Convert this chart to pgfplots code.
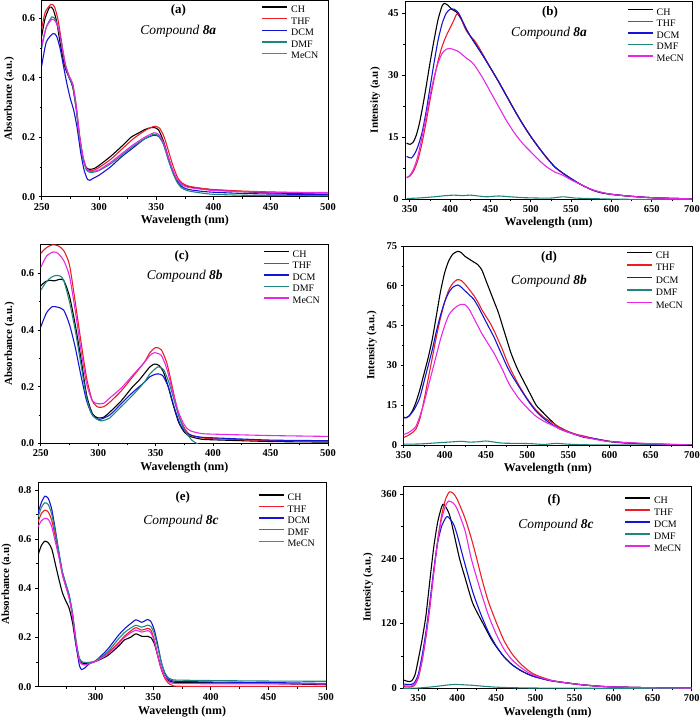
\documentclass[border=0pt]{standalone}
\usepackage{fontspec}
\setmainfont{Liberation Serif}
\usepackage{pgfplots}
\pgfplotsset{compat=1.18}
\definecolor{cCH}{RGB}{0,0,0}
\definecolor{cTHF}{RGB}{235,30,35}
\definecolor{cDCM}{RGB}{20,20,215}
\definecolor{cDMF}{RGB}{30,135,125}
\definecolor{cMeCN}{RGB}{230,40,230}
\pgfplotsset{
  panel/.style={
    scale only axis,
    axis line style={line width=0.8pt},
    tick align=outside, tick pos=left,
    major tick length=3bp, minor tick length=2bp,
    every tick/.style={black, line width=0.7pt},
    tick label style={font=\fontsize{10.5}{12}\selectfont\bfseries},
    /pgf/number format/assume math mode=true,
    xlabel={Wavelength (nm)},
    x label style={font=\fontsize{12}{14}\selectfont\bfseries, anchor=center, at={(axis description cs:0.5,-0.12)}},
    y label style={font=\fontsize{11}{13}\selectfont\bfseries, anchor=center},
    legend style={draw=none, fill=none, font=\fontsize{10}{12}\selectfont, anchor=north west, inner sep=0pt, row sep=2.6bp,
      nodes={inner sep=0pt, text height=7bp, text depth=2bp},
      /tikz/every odd column/.append style={column sep=3bp}},
    legend image code/.code={\draw[#1, line width=1.4pt] (0bp,3bp) -- (25bp,3bp);},
    legend cell align=left,
    every axis plot/.append style={line width=1.1pt, mark=none, smooth, tension=0.4},
    enlargelimits=false,
    minor x tick num=1, minor y tick num=1,
  },
  absy/.style={yticklabel style={/pgf/number format/.cd, fixed, fixed zerofill, precision=1}},
}
\begin{document}
\begin{tikzpicture}
\path[use as bounding box] (0bp,0bp) rectangle (700bp,722bp);

% ---------------- (a)
\begin{axis}[panel, absy, at={(41.7bp,525.3bp)}, anchor=south west, width=286.3bp, height=196.2bp,
  xmin=250, xmax=500, ymin=0, ymax=0.66, xtick={250,300,...,500}, ytick={0,0.2,0.4,0.6},
  ylabel={Absorbance (a.u.)}, y label style={at={(axis description cs:-0.113,0.5)}},
  legend style={at={(axis description cs:0.768,0.975)}}]
\addplot[cCH] coordinates {(250,0.54)(253,0.6)(257,0.638)(260,0.63)(263,0.59)(266,0.52)(270,0.44)(274,0.4)(277,0.37)(280,0.3)(283,0.2)(286,0.13)(289,0.098)(292,0.092)(296,0.095)(300,0.105)(310,0.135)(320,0.17)(328,0.2)(335,0.215)(340,0.226)(345,0.232)(348,0.233)(352,0.225)(356,0.19)(360,0.14)(364,0.09)(368,0.058)(372,0.042)(376,0.035)(380,0.032)(390,0.027)(400,0.023)(425,0.017)(450,0.013)(475,0.01)(500,0.008)};
\addplot[cTHF] coordinates {(250,0.565)(253,0.62)(258,0.647)(261,0.64)(264,0.6)(267,0.53)(270,0.45)(274,0.405)(277,0.38)(280,0.31)(283,0.21)(286,0.135)(289,0.095)(292,0.087)(296,0.09)(300,0.098)(310,0.125)(320,0.16)(330,0.195)(340,0.222)(345,0.232)(349,0.237)(353,0.23)(357,0.2)(361,0.15)(365,0.1)(369,0.062)(373,0.045)(377,0.037)(380,0.034)(390,0.028)(400,0.024)(425,0.019)(450,0.016)(475,0.014)(500,0.013)};
\addplot[cDCM] coordinates {(250,0.44)(254,0.52)(260,0.549)(263,0.54)(266,0.5)(269,0.44)(272,0.38)(275,0.33)(278,0.29)(281,0.23)(284,0.15)(287,0.09)(290,0.058)(292,0.055)(295,0.062)(300,0.072)(310,0.1)(320,0.135)(330,0.165)(340,0.195)(345,0.203)(348,0.207)(352,0.203)(356,0.18)(360,0.135)(364,0.09)(368,0.055)(372,0.035)(376,0.027)(380,0.023)(390,0.018)(400,0.015)(425,0.011)(450,0.009)(500,0.007)};
\addplot[cDMF] coordinates {(250,0.5)(254,0.57)(259,0.605)(262,0.595)(265,0.56)(268,0.5)(271,0.44)(274,0.4)(277,0.375)(280,0.3)(283,0.2)(286,0.13)(289,0.09)(292,0.082)(296,0.083)(300,0.088)(310,0.11)(320,0.14)(330,0.17)(340,0.195)(345,0.205)(348,0.21)(352,0.205)(356,0.18)(360,0.13)(364,0.085)(368,0.05)(372,0.03)(376,0.022)(380,0.018)(390,0.012)(400,0.008)(425,0.005)(450,0.004)(500,0.003)};
\addplot[cMeCN] coordinates {(250,0.51)(254,0.57)(259,0.597)(262,0.59)(265,0.56)(268,0.5)(271,0.44)(274,0.405)(277,0.38)(280,0.31)(283,0.205)(286,0.135)(289,0.095)(292,0.085)(296,0.086)(300,0.09)(310,0.115)(320,0.145)(330,0.175)(340,0.2)(345,0.21)(348,0.215)(352,0.21)(356,0.185)(360,0.14)(364,0.095)(368,0.06)(372,0.042)(376,0.034)(380,0.03)(390,0.025)(400,0.021)(425,0.017)(450,0.015)(475,0.014)(500,0.014)};
\legend{CH,THF,DCM,DMF,MeCN}
\end{axis}

% ---------------- (b)
\begin{axis}[panel, at={(405bp,522.7bp)}, anchor=south west, width=287bp, height=198.3bp,
  xmin=344, xmax=700, ymin=0, ymax=48, xtick={350,400,...,700}, ytick={0,15,30,45},
  ylabel={Intensity (a.u)}, y label style={at={(axis description cs:-0.104,0.5)}},
  legend style={at={(axis description cs:0.774,0.965)}}]
\addplot[cCH] coordinates {(346,13.6)(350,13.3)(354,13.8)(358,15.5)(362,18.5)(366,22.5)(370,27)(375,33)(380,38.5)(385,43.5)(390,46.8)(393,47.4)(397,47)(402,46)(408,45.3)(414,43.5)(420,41.2)(425,39.5)(430,38)(440,35)(450,31.8)(460,28.5)(470,25)(480,21.5)(490,18.2)(500,15.2)(510,12.5)(520,10)(530,7.8)(540,6.3)(550,5)(560,3.8)(570,2.8)(580,2)(590,1.5)(600,1.2)(620,0.8)(640,0.5)(660,0.3)(680,0.2)(700,0.1)};
\addplot[cTHF] coordinates {(346,5.3)(350,5.6)(355,7)(360,9.5)(365,13.5)(370,18.5)(375,24)(380,29)(385,33.5)(390,37)(395,39.5)(400,41.5)(405,43.5)(408,44.8)(412,44.5)(416,42.5)(420,40.8)(425,39.5)(430,38.5)(435,37)(440,35.3)(450,31.8)(460,28.5)(470,25)(480,21.5)(490,18.2)(500,15.2)(510,12.5)(520,10)(530,7.8)(540,6.3)(550,5)(560,3.8)(570,2.8)(580,2)(590,1.5)(600,1.2)(620,0.8)(640,0.5)(660,0.3)(680,0.2)(700,0.1)};
\addplot[cDCM] coordinates {(346,10.4)(349,10.1)(352,10)(356,11)(360,12.8)(365,16)(370,21)(375,27)(380,33)(385,38.5)(390,42.5)(395,45)(400,46)(405,46)(410,45.2)(415,43.3)(420,41.2)(425,39.5)(430,38)(440,35)(450,31.8)(460,28.5)(470,25)(480,21.5)(490,18.2)(500,15.2)(510,12.5)(520,10)(530,7.8)(540,6.3)(550,5)(560,3.8)(570,2.8)(580,2)(590,1.5)(600,1.2)(620,0.8)(640,0.5)(660,0.3)(680,0.2)(700,0.1)};
\addplot[cDMF] coordinates {(346,0.2)(360,0.3)(380,0.6)(395,0.9)(405,1.0)(415,0.9)(425,1.0)(435,0.8)(445,0.6)(460,0.8)(475,0.6)(490,0.4)(510,0.3)(525,0.3)(540,0.6)(555,0.3)(570,0.2)(590,0.1)(620,0)(700,0)};
\addplot[cMeCN] coordinates {(346,5.2)(350,5.8)(355,7.5)(360,10.5)(365,15)(370,20)(375,25)(380,29.5)(385,33)(390,35.3)(395,36.3)(400,36.5)(405,36.2)(410,35.8)(415,35)(420,34.2)(425,33.5)(430,32.5)(440,29.5)(450,26)(460,22.5)(470,19)(480,16)(490,13.5)(500,11.5)(510,9.5)(520,7.8)(530,6.6)(540,5.8)(550,4.7)(560,3.8)(570,2.8)(580,2.1)(590,1.6)(600,1.2)(620,0.8)(640,0.5)(660,0.3)(700,0.1)};
\legend{CH,THF,DCM,DMF,MeCN}
\end{axis}

% ---------------- (c)
\begin{axis}[panel, absy, at={(40.7bp,278.5bp)}, anchor=south west, width=287.3bp, height=199.5bp,
  xmin=250, xmax=500, ymin=0, ymax=0.703, xtick={250,300,...,500}, ytick={0,0.2,0.4,0.6},
  ylabel={Absorbance (a.u.)}, y label style={at={(axis description cs:-0.109,0.5)}},
  legend style={at={(axis description cs:0.774,0.97)}}]
\addplot[cCH] coordinates {(250,0.555)(254,0.57)(258,0.575)(262,0.573)(266,0.578)(270,0.575)(275,0.52)(280,0.42)(285,0.3)(290,0.17)(295,0.105)(300,0.09)(305,0.093)(310,0.11)(320,0.15)(330,0.2)(335,0.22)(340,0.245)(345,0.27)(349,0.28)(353,0.275)(357,0.25)(361,0.2)(365,0.14)(370,0.075)(375,0.04)(380,0.025)(390,0.015)(400,0.013)(450,0.007)(500,0.005)};
\addplot[cTHF] coordinates {(250,0.67)(255,0.69)(260,0.7)(265,0.697)(270,0.68)(275,0.63)(280,0.5)(285,0.36)(290,0.23)(295,0.15)(300,0.128)(305,0.13)(310,0.145)(320,0.185)(330,0.235)(340,0.285)(345,0.32)(350,0.338)(355,0.33)(360,0.28)(365,0.19)(370,0.1)(375,0.055)(380,0.03)(390,0.02)(400,0.017)(450,0.01)(500,0.008)};
\addplot[cDCM] coordinates {(250,0.41)(255,0.46)(260,0.482)(265,0.48)(270,0.47)(275,0.42)(280,0.34)(285,0.24)(290,0.15)(295,0.1)(301,0.085)(310,0.1)(320,0.14)(330,0.18)(340,0.215)(345,0.235)(351,0.245)(356,0.24)(361,0.2)(366,0.13)(371,0.07)(376,0.04)(382,0.028)(390,0.022)(400,0.02)(450,0.012)(500,0.01)};
\addplot[cDMF] coordinates {(250,0.54)(255,0.57)(259,0.585)(263,0.592)(267,0.59)(270,0.575)(275,0.5)(280,0.4)(285,0.28)(290,0.16)(295,0.1)(302,0.08)(310,0.09)(320,0.13)(330,0.17)(340,0.215)(345,0.245)(352,0.27)(357,0.26)(362,0.21)(367,0.14)(372,0.075)(377,0.035)(382,0.01)(386,0)(390,-0.01)(400,-0.02)(500,-0.02)};
\addplot[cMeCN] coordinates {(250,0.62)(255,0.66)(261,0.675)(265,0.67)(270,0.645)(275,0.59)(280,0.47)(285,0.33)(290,0.21)(295,0.15)(300,0.14)(305,0.142)(310,0.16)(320,0.195)(330,0.24)(340,0.285)(345,0.31)(349,0.32)(355,0.31)(360,0.26)(365,0.18)(370,0.11)(375,0.065)(380,0.045)(390,0.035)(400,0.033)(450,0.028)(500,0.025)};
\legend{CH,THF,DCM,DMF,MeCN}
\end{axis}

% ---------------- (d)
\begin{axis}[panel, at={(403.5bp,277bp)}, anchor=south west, width=288.5bp, height=199bp,
  xmin=350, xmax=700, ymin=0, ymax=75, xtick={350,400,...,700}, ytick={0,15,...,75},
  ylabel={Intensity (a.u.)}, y label style={at={(axis description cs:-0.11,0.5)}},
  legend style={at={(axis description cs:0.772,0.975)}, row sep=3.5bp}]
\addplot[cCH] coordinates {(350,10.5)(353,10.3)(357,11)(361,13)(365,16)(370,21)(375,27)(380,33)(385,40)(390,49)(395,58)(400,65)(405,69.5)(410,72)(416,73)(420,72.5)(425,71)(430,70)(435,69)(440,68)(445,66)(450,62)(455,58)(460,54)(465,50)(470,45)(475,40)(480,35)(485,31)(490,27.5)(495,24.5)(500,21.5)(505,18.5)(511,15)(520,12)(535,7.5)(550,5)(568,3)(585,2.2)(600,1.4)(620,0.8)(650,0.3)(700,0)};
\addplot[cTHF] coordinates {(350,2.8)(355,3.5)(360,4.5)(365,6)(370,10)(375,17)(380,25)(385,33)(390,41)(395,48)(400,54)(405,58.5)(410,61)(415,62.3)(420,62)(425,60.5)(430,58.5)(435,56.5)(440,54)(445,51)(450,48.5)(455,46)(460,43)(465,39.5)(470,36)(475,32)(480,28.5)(490,22.5)(500,17.5)(510,13.5)(520,10.5)(530,8.5)(540,6.5)(550,5)(560,4)(570,3.3)(580,2.5)(600,1.3)(620,0.7)(650,0.5)(700,0)};
\addplot[cDCM] coordinates {(350,10.3)(353,10.2)(357,11)(361,12.5)(365,14.5)(370,18)(375,24)(380,30)(385,36)(390,43)(395,49)(400,54)(405,57.5)(410,59.5)(416,60.3)(420,59.5)(425,58)(430,56.5)(435,55)(440,52.5)(445,49.5)(450,46.5)(455,43.5)(460,40.5)(465,37)(470,33.5)(475,30)(480,27)(490,22)(500,17.2)(510,13)(520,10)(530,7.8)(540,6)(550,4.8)(560,3.8)(570,3)(580,2.5)(600,1.3)(650,0.3)(700,0)};
\addplot[cDMF] coordinates {(350,0.3)(370,0.4)(390,0.8)(410,1.2)(420,1.4)(430,1.1)(440,1.2)(450,1.5)(460,1.1)(470,0.7)(490,0.6)(505,0.5)(520,0.2)(535,0.6)(550,0.3)(570,0.1)(600,0)(700,0)};
\addplot[cMeCN] coordinates {(350,4)(355,4.5)(360,5.5)(365,7)(370,11)(375,16)(380,22)(385,28)(390,34)(395,40)(400,45)(405,49)(410,51)(415,52.3)(420,53)(425,52.8)(430,51)(435,48)(440,45)(445,42)(450,39.5)(455,37)(460,34.5)(465,31.5)(470,28.5)(475,25)(480,22)(490,17.5)(500,14)(510,11)(520,9)(530,7.5)(540,6)(550,4.8)(560,3.8)(570,3)(580,2.3)(600,1.3)(650,0.5)(700,0)};
\legend{CH,THF,DCM,DMF,MeCN}
\end{axis}

% ---------------- (e)
\begin{axis}[panel, absy, at={(38bp,35.3bp)}, anchor=south west, width=288bp, height=204.7bp,
  xmin=250, xmax=500, ymin=0, ymax=0.8325, xtick={300,350,...,500}, minor xtick={275,325,...,475}, ytick={0,0.2,...,0.8},
  ylabel={Absorbance (a.u)}, y label style={at={(axis description cs:-0.109,0.5)}},
  legend style={at={(axis description cs:0.764,0.945)}}]
\addplot[cCH] coordinates {(250,0.535)(253,0.575)(256,0.592)(259,0.585)(262,0.56)(265,0.5)(268,0.44)(271,0.385)(274,0.35)(277,0.32)(280,0.26)(283,0.17)(286,0.11)(289,0.095)(292,0.095)(296,0.098)(300,0.103)(310,0.125)(320,0.165)(325,0.19)(330,0.2)(335,0.215)(340,0.205)(345,0.205)(348,0.2)(351,0.175)(354,0.125)(357,0.075)(360,0.04)(363,0.025)(366,0.02)(370,0.018)(400,0.016)(450,0.013)(500,0.008)};
\addplot[cTHF] coordinates {(250,0.67)(253,0.705)(256,0.718)(259,0.71)(262,0.675)(265,0.61)(268,0.54)(271,0.46)(274,0.41)(277,0.365)(280,0.29)(283,0.18)(286,0.105)(289,0.09)(292,0.09)(296,0.097)(300,0.105)(310,0.135)(320,0.18)(325,0.205)(330,0.225)(335,0.24)(340,0.23)(345,0.237)(348,0.23)(351,0.19)(354,0.125)(357,0.07)(360,0.035)(363,0.015)(366,0.007)(370,0.002)(400,0.001)(500,0.001)};
\addplot[cDCM] coordinates {(250,0.705)(253,0.75)(256,0.775)(259,0.765)(262,0.72)(265,0.64)(268,0.55)(271,0.47)(274,0.42)(277,0.37)(280,0.29)(283,0.17)(286,0.085)(288,0.07)(291,0.078)(295,0.095)(300,0.105)(310,0.15)(320,0.21)(325,0.235)(330,0.255)(335,0.272)(340,0.262)(345,0.273)(348,0.265)(351,0.23)(354,0.17)(357,0.1)(360,0.055)(363,0.032)(366,0.025)(370,0.022)(400,0.019)(450,0.017)(500,0.013)};
\addplot[cDMF] coordinates {(250,0.69)(253,0.73)(256,0.748)(259,0.74)(262,0.7)(265,0.63)(268,0.55)(271,0.47)(274,0.42)(277,0.375)(280,0.3)(283,0.19)(286,0.115)(289,0.1)(292,0.098)(296,0.1)(300,0.105)(310,0.14)(320,0.195)(325,0.22)(330,0.237)(335,0.25)(340,0.242)(345,0.25)(348,0.245)(351,0.215)(354,0.16)(357,0.1)(360,0.058)(363,0.037)(366,0.03)(370,0.027)(400,0.025)(450,0.023)(500,0.022)};
\addplot[cMeCN] coordinates {(250,0.65)(253,0.675)(256,0.685)(259,0.68)(262,0.65)(265,0.59)(268,0.53)(271,0.46)(274,0.41)(277,0.36)(280,0.29)(283,0.18)(286,0.105)(289,0.09)(292,0.09)(296,0.096)(300,0.103)(310,0.13)(320,0.175)(325,0.2)(330,0.218)(335,0.23)(340,0.222)(345,0.228)(348,0.22)(351,0.185)(354,0.125)(357,0.075)(360,0.04)(363,0.022)(366,0.015)(370,0.013)(400,0.012)(450,0.012)(500,0.011)};
\legend{CH,THF,DCM,DMF,MeCN}
\end{axis}

% ---------------- (f)
\begin{axis}[panel, at={(403.3bp,33.7bp)}, anchor=south west, width=288.4bp, height=202.3bp,
  xmin=331, xmax=700, ymin=0, ymax=374.8, xtick={350,400,...,700}, ytick={0,120,240,360},
  ylabel={Intensity (a.u.)}, y label style={at={(axis description cs:-0.122,0.5)}},
  legend style={at={(axis description cs:0.767,0.95)}, row sep=3bp}]
\addplot[cCH] coordinates {(331,15.5)(335,13.5)(338,12.5)(342,14)(346,25)(350,52)(355,90)(360,135)(365,200)(370,262)(375,308)(380,336)(383,341)(390,322)(396,285)(403,240)(410,205)(420,157)(433,120)(444,90)(450,77)(460,58)(470,44)(480,34)(490,26.5)(500,21)(520,14)(540,10)(560,6.5)(580,4)(600,2.5)(650,1)(700,0.5)};
\addplot[cTHF] coordinates {(331,3)(340,2.5)(345,5)(350,18)(355,50)(360,95)(365,150)(370,215)(375,275)(380,320)(385,350)(390,364)(395,361)(400,350)(410,315)(418,278)(425,240)(432,200)(440,160)(450,122)(460,88)(470,64)(480,47)(490,34)(500,25)(520,15)(540,10)(560,6.5)(580,4)(600,2.5)(650,1)(700,0.5)};
\addplot[cDCM] coordinates {(331,8)(340,7)(345,10)(350,25)(355,60)(360,105)(365,160)(370,220)(375,270)(380,300)(385,315)(388,318)(395,305)(400,284)(408,240)(420,178)(430,138)(440,104)(450,78)(460,58)(470,44)(480,34)(490,26.5)(500,21)(520,14)(540,10)(560,6.5)(580,4)(600,2.5)(650,1)(700,0.5)};
\addplot[cDMF] coordinates {(331,0)(350,0.5)(370,3)(390,6.5)(400,7)(420,5.5)(440,3)(460,1.5)(500,0.5)(600,0)(700,0)};
\addplot[cMeCN] coordinates {(331,5)(340,4)(345,7)(350,20)(355,52)(360,98)(365,153)(370,215)(375,272)(380,314)(385,338)(389,347)(395,343)(400,332)(410,292)(418,240)(430,180)(440,135)(450,100)(460,72)(470,53)(480,40)(490,30)(500,23)(520,14.5)(540,10)(560,6.5)(580,4)(600,2.5)(650,1)(700,0.5)};
\legend{CH,THF,DCM,DMF,MeCN}
\end{axis}

% ---------------- panel captions
\def\capfont{\fontsize{13}{15}\selectfont\bfseries}
\def\cmpfont{\fontsize{13.5}{15}\selectfont\itshape}
\node[font=\capfont] at (178.3bp,712bp) {(a)};
\node[font=\cmpfont] at (178.3bp,690.3bp) {Compound \textbf{8a}};
\node[font=\capfont] at (550bp,709.3bp) {(b)};
\node[font=\cmpfont] at (549bp,688.7bp) {Compound \textbf{8a}};
\node[font=\capfont] at (181.7bp,466bp) {(c)};
\node[font=\cmpfont] at (184.7bp,445.3bp) {Compound \textbf{8b}};
\node[font=\capfont] at (549bp,464.7bp) {(d)};
\node[font=\cmpfont] at (549bp,441bp) {Compound \textbf{8b}};
\node[font=\capfont] at (182.7bp,224.7bp) {(e)};
\node[font=\cmpfont] at (181bp,201bp) {Compound \textbf{8c}};
\node[font=\capfont] at (554bp,222bp) {(f)};
\node[font=\cmpfont] at (556bp,197bp) {Compound \textbf{8c}};
\end{tikzpicture}
\end{document}
